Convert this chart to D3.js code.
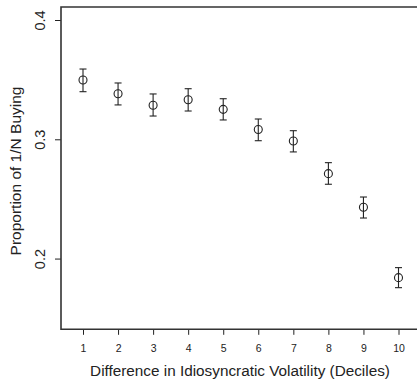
<!DOCTYPE html>
<html>
<head>
<meta charset="utf-8">
<script src="https://cdn.jsdelivr.net/npm/d3@7"></script>
<style>
  html, body { margin: 0; padding: 0; background: #fff; }
  svg { display: block; font-family: "Liberation Sans", Arial, Helvetica, sans-serif; }
</style>
</head>
<body>
<svg id="chart" width="417" height="381"></svg>
<script>
// Volatility deciles and the share of 1/N buying in each, with error bounds
const deciles = [1, 2, 3, 4, 5, 6, 7, 8, 9, 10];
const proportion = [0.3497, 0.3382, 0.3285, 0.3332, 0.3251, 0.3082, 0.2986, 0.2712, 0.2430, 0.1840];
const lower = [0.3399, 0.3288, 0.3195, 0.3237, 0.3162, 0.2988, 0.2894, 0.2623, 0.2340, 0.1756];
const upper = [0.3589, 0.3472, 0.3380, 0.3424, 0.3340, 0.3170, 0.3072, 0.2804, 0.2516, 0.1924];
const yTicks = [0.2, 0.3, 0.4];
const yTickLabels = ["0.2", "0.3", "0.4"];

const svg = d3.select("#chart");
const ink = "#222";
const font = "'Liberation Sans', Arial, sans-serif";

const x = d3.scaleLinear().domain([1, 10]).range([83, 398.5]);
const y = d3.scaleLinear().domain([0.1407, 0.4109]).range([329.3, 7]);

const frameLeft = 61, frameRight = 417;
const frameTop = y.range()[1], frameBottom = y.range()[0];

// Bottom axis
const xAxis = svg.append("g")
  .attr("transform", `translate(0,${frameBottom})`)
  .call(d3.axisBottom(x).tickValues(deciles).tickSize(5.5).tickPadding(0).tickFormat(d3.format("d")));
xAxis.select(".domain").remove();
xAxis.selectAll(".tick line").attr("stroke", ink);
xAxis.selectAll(".tick text")
  .attr("fill", ink)
  .attr("y", 18.7).attr("dy", "0.35em")
  .style("font-size", "10.5px")
  .style("font-family", font);

// Left axis with rotated labels
const yAxis = svg.append("g")
  .attr("transform", `translate(${frameLeft},0)`)
  .call(d3.axisLeft(y).tickValues(yTicks).tickSize(6).tickFormat((d, i) => yTickLabels[i]));
yAxis.select(".domain").remove();
yAxis.selectAll(".tick line").attr("stroke", ink);
yAxis.selectAll(".tick text")
  .attr("fill", ink)
  .attr("x", null)
  .attr("text-anchor", "middle")
  .attr("transform", "translate(-21,0) rotate(-90)")
  .attr("dy", "0.36em")
  .style("font-size", "14.5px")
  .style("font-family", font);

// Frame: left, top and bottom edges
svg.append("path")
  .attr("d", `M${frameRight},${frameTop}H${frameLeft}V${frameBottom}H${frameRight}`)
  .attr("fill", "none").attr("stroke", "#333").attr("stroke-width", 1.6);

// Error bars and points
const rows = deciles.map((d, i) => ({ d, p: proportion[i], lo: lower[i], hi: upper[i] }));
const g = svg.append("g");
const bar = g.selectAll("g.bar").data(rows).join("g").attr("class", "bar");
bar.append("line")
  .attr("x1", r => x(r.d)).attr("x2", r => x(r.d))
  .attr("y1", r => y(r.lo)).attr("y2", r => y(r.hi))
  .attr("stroke", ink).attr("stroke-width", 1.1);
bar.append("line")
  .attr("x1", r => x(r.d) - 3.5).attr("x2", r => x(r.d) + 3.5)
  .attr("y1", r => y(r.lo)).attr("y2", r => y(r.lo))
  .attr("stroke", ink).attr("stroke-width", 1.1);
bar.append("line")
  .attr("x1", r => x(r.d) - 3.5).attr("x2", r => x(r.d) + 3.5)
  .attr("y1", r => y(r.hi)).attr("y2", r => y(r.hi))
  .attr("stroke", ink).attr("stroke-width", 1.1);
bar.append("circle")
  .attr("cx", r => x(r.d)).attr("cy", r => y(r.p)).attr("r", 4)
  .attr("fill", "none").attr("stroke", ink).attr("stroke-width", 1.1);

// Axis titles
svg.append("text")
  .attr("x", 240).attr("y", 376)
  .attr("text-anchor", "middle")
  .attr("fill", ink)
  .style("font-size", "15.3px")
  .text("Difference in Idiosyncratic Volatility (Deciles)");

svg.append("text")
  .attr("transform", "translate(21,171) rotate(-90)")
  .attr("text-anchor", "middle")
  .attr("fill", ink)
  .style("font-size", "15.5px")
  .text("Proportion of 1/N Buying");
</script>
</body>
</html>
